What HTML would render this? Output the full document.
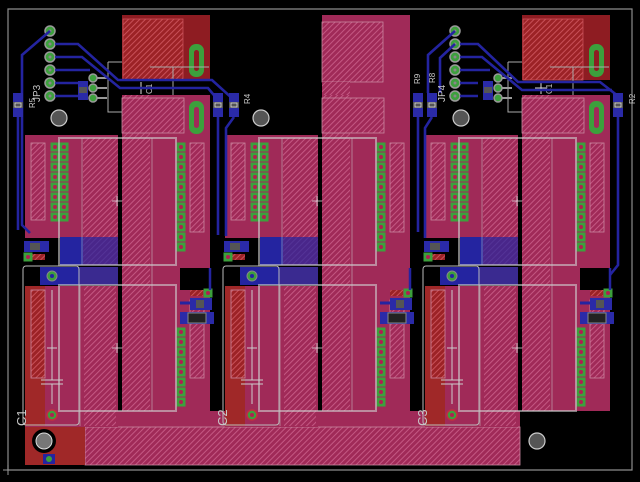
<!DOCTYPE html>
<html><head><meta charset="utf-8"><style>
html,body{margin:0;padding:0;background:#000;}
svg{display:block}
text{font-family:"Liberation Sans",sans-serif;fill:#c8c8c8;}
</style></head><body>
<svg width="640" height="482" viewBox="0 0 640 482" xmlns="http://www.w3.org/2000/svg">
<defs>
<pattern id="hp" width="4" height="4" patternUnits="userSpaceOnUse" patternTransform="rotate(45)">
<rect width="4" height="4" fill="#a02a58"/><rect width="1" height="4" fill="#c45883"/></pattern>
<pattern id="hr" width="4" height="4" patternUnits="userSpaceOnUse" patternTransform="rotate(45)">
<rect width="4" height="4" fill="#9c2226"/><rect width="1" height="4" fill="#c85058"/></pattern>
<g id="pad"><rect x="-4.5" y="-4.5" width="9" height="9" fill="#3ca03c"/><circle r="2" fill="#b02050"/></g>
<g id="strip2">
<use href="#pad" x="55" y="147"/><use href="#pad" x="64" y="147"/>
<use href="#pad" x="55" y="157"/><use href="#pad" x="64" y="157"/>
<use href="#pad" x="55" y="167"/><use href="#pad" x="64" y="167"/>
<use href="#pad" x="55" y="177"/><use href="#pad" x="64" y="177"/>
<use href="#pad" x="55" y="187"/><use href="#pad" x="64" y="187"/>
<use href="#pad" x="55" y="197"/><use href="#pad" x="64" y="197"/>
<use href="#pad" x="55" y="207"/><use href="#pad" x="64" y="207"/>
<use href="#pad" x="55" y="217"/><use href="#pad" x="64" y="217"/>
</g>
<g id="strip1">
<use href="#pad" x="0" y="0"/><use href="#pad" x="0" y="10"/><use href="#pad" x="0" y="20"/><use href="#pad" x="0" y="30"/>
<use href="#pad" x="0" y="40"/><use href="#pad" x="0" y="50"/><use href="#pad" x="0" y="60"/><use href="#pad" x="0" y="70"/>
</g>
<g id="res"><rect x="-5" y="0" width="10" height="24" fill="#2a2aa8"/><rect x="-5" y="9" width="10" height="6" fill="#555"/><rect x="-3" y="10" width="6" height="4" fill="none" stroke="#ddd" stroke-width="0.8"/></g>
<g id="mod">
<rect x="25" y="135" width="93" height="103" fill="#a02a58"/>
<rect x="122" y="95" width="88" height="173" fill="#a02a58"/>
<rect x="122" y="268" width="58" height="22" fill="#a02a58"/>
<rect x="122" y="290" width="88" height="121" fill="#a02a58"/>
<rect x="25" y="286" width="93" height="141" fill="#a02a58"/>
<rect x="25" y="286" width="20" height="140" fill="#a02828"/>
<rect x="84" y="286" width="32" height="140" fill="url(#hp)"/>
<rect x="122" y="95" width="28" height="316" fill="url(#hp)"/>
<rect x="122" y="98" width="62" height="35" fill="url(#hp)" stroke="#c888a0" stroke-width="0.8"/>
<rect x="83" y="138" width="35" height="100" fill="url(#hp)"/>
<rect x="60" y="237" width="58" height="28" fill="#2424a0"/>
<rect x="83" y="237" width="35" height="28" fill="url(#hp)" opacity="0.3"/>
<rect x="40" y="267" width="40" height="18" fill="#2424a0"/>
<rect x="80" y="267" width="38" height="18" fill="#3a2a90"/>
<rect x="31" y="143" width="14" height="77" fill="url(#hp)" stroke="#c888a0" stroke-width="0.8"/>
<rect x="190" y="143" width="14" height="89" fill="url(#hp)" stroke="#c888a0" stroke-width="0.8"/>
<rect x="190" y="300" width="14" height="78" fill="url(#hp)" stroke="#c888a0" stroke-width="0.8"/>
<rect x="31" y="290" width="14" height="88" fill="url(#hr)" stroke="#c888a0" stroke-width="0.8"/>
<use href="#strip2"/>
<g transform="translate(181,147)"><use href="#strip1"/><use href="#pad" y="80"/><use href="#pad" y="90"/><use href="#pad" y="100"/></g>
<g transform="translate(181,332)"><use href="#strip1"/></g>
<rect x="59" y="138" width="117" height="127" fill="none" stroke="#cfcfcf" stroke-opacity="0.6" stroke-width="2"/>
<rect x="59" y="285" width="117" height="126" fill="none" stroke="#cfcfcf" stroke-opacity="0.6" stroke-width="2"/>
<line x1="82" y1="138" x2="82" y2="265" stroke="#ccc" stroke-opacity="0.5"/>
<line x1="152" y1="138" x2="152" y2="411" stroke="#ccc" stroke-opacity="0.5"/>
<line x1="80" y1="285" x2="80" y2="426" stroke="#ccc" stroke-opacity="0.5"/>
<rect x="23" y="266" width="56" height="159" rx="3" fill="none" stroke="#bbb" stroke-width="1"/>
<path d="M112 201h10M117 196v10M112 348h10M117 343v10" stroke="#ddd" stroke-width="0.8"/>
<path d="M52 290v90M41 380h22M41 384h22M52 384v20M47 348h10" stroke="#ccc" stroke-width="1"/>
<circle cx="52" cy="276" r="5" fill="#3ca03c" stroke="#888"/><circle cx="52" cy="276" r="2" fill="#2424a0"/>
<circle cx="52" cy="415" r="5" fill="#3ca03c" stroke="#c03040" stroke-width="1.5"/><circle cx="52" cy="415" r="2" fill="#b02050"/>
<rect x="30" y="254" width="15" height="6" fill="url(#hr)"/><use href="#pad" x="28" y="257"/>
<rect x="24" y="241" width="25" height="11" fill="#2a2aa8"/><rect x="30" y="243" width="10" height="7" fill="#555"/>
<rect x="190" y="290" width="13" height="6" fill="url(#hr)"/><use href="#pad" x="208" y="293"/>
<rect x="190" y="298" width="22" height="12" fill="#2a2aa8"/><rect x="196" y="300" width="8" height="8" fill="#555"/>
<rect x="180" y="312" width="34" height="12" fill="#2a2aa8"/><rect x="188" y="313" width="18" height="10" fill="#222" stroke="#888"/>
<path d="M180 303h10" stroke="#2424a0" stroke-width="3"/>
<path d="M210 290V268" stroke="#2424a0" stroke-width="2.5"/>
</g>
<g id="top">
<rect x="122" y="15" width="88" height="65" fill="#8e1c22"/>
<rect x="123" y="19" width="60" height="61" fill="url(#hr)" stroke="#c85058" stroke-width="0.8"/>
<rect x="189" y="44" width="15" height="33" rx="7" fill="#3ca03c"/><rect x="194" y="50" width="5" height="21" rx="2.5" fill="#8e1c22"/>
<rect x="189" y="101" width="15" height="33" rx="7" fill="#3ca03c"/><rect x="194" y="107" width="5" height="21" rx="2.5" fill="#a02a58"/>
<path d="M108 62h14M108 62v50h14M173 67v28M150 67h59" stroke="#aaa" stroke-width="1" fill="none"/>
<path d="M135 88h12M141 82v12" stroke="#ddd"/>
<text x="146" y="92" font-size="8" transform="rotate(-90 150 90)">C1</text>
</g>
<g id="hdr">
<g fill="#3ca03c" stroke="#999" stroke-width="1.5">
<circle cx="50" cy="31" r="5"/><circle cx="50" cy="44" r="5"/><circle cx="50" cy="57" r="5"/><circle cx="50" cy="70" r="5"/><circle cx="50" cy="83" r="5"/><circle cx="50" cy="96" r="5"/>
<circle cx="93" cy="78" r="4"/><circle cx="93" cy="88" r="4"/><circle cx="93" cy="98" r="4"/></g>
<g fill="#888"><circle cx="50" cy="31" r="1.5"/><circle cx="50" cy="44" r="1.5"/><circle cx="50" cy="57" r="1.5"/><circle cx="50" cy="70" r="1.5"/><circle cx="50" cy="83" r="1.5"/><circle cx="50" cy="96" r="1.5"/></g>
<rect x="78" y="81" width="10" height="19" fill="#2a2aa8"/><rect x="79" y="87" width="8" height="6" fill="#555"/>
<path d="M97 78h10M97 88h10M97 98h10" stroke="#999" stroke-width="2"/>
</g>
</defs>

<path d="M8 9H632V470H8Z" fill="none" stroke="#8c8c8c" stroke-width="1.2"/>
<path d="M3 470h5M8 465v10" stroke="#999"/>

<rect x="322" y="15" width="88" height="396" fill="#a02a58"/>
<rect x="322" y="22" width="61" height="60" fill="url(#hp)" stroke="#c888a0" stroke-width="0.8"/>
<rect x="322" y="82" width="28" height="50" fill="url(#hp)"/>

<rect x="25" y="411" width="495" height="54" fill="#a02a58"/>
<rect x="85" y="427" width="435" height="38" fill="url(#hp)" stroke="#c888a0" stroke-width="0.8"/>
<rect x="25" y="425" width="60" height="40" fill="#a02828"/>

<use href="#mod"/>
<use href="#mod" x="200"/>
<use href="#mod" x="400"/>
<use href="#top"/>
<use href="#top" x="400"/>
<use href="#hdr"/>
<use href="#hdr" x="405"/>

<g stroke="#2424a0" stroke-width="2.6" fill="none">
<path d="M50 31L22 55V225L30 233"/>
<path d="M18 117V230"/>
<path d="M55 44H78L118 80H212L234 100"/>
<path d="M55 57H82L120 88H208L218 100"/>
<path d="M55 70H90"/><path d="M55 83H78M55 96H78"/>
<path d="M218 117V235M234 117L226 128V236"/>
<path d="M455 31L428 55V93M455 44L440 58V93"/>
<path d="M460 44H478L518 82H600L618 96"/>
<path d="M460 57H482L522 90H612"/>
<path d="M418 117V232M432 117L425 128V238"/>
<path d="M618 117V265L610 275"/>
<path d="M460 70H490"/><path d="M460 83H478M460 96H478"/>
</g>
<use href="#res" x="18" y="93"/>
<use href="#res" x="218" y="93"/>
<use href="#res" x="234" y="93"/>
<use href="#res" x="418" y="93"/>
<use href="#res" x="432" y="93"/>
<use href="#res" x="618" y="93"/>
<text x="30" y="100" font-size="10" transform="rotate(-90 36 96)">JP3</text>
<text x="435" y="100" font-size="10" transform="rotate(-90 441 96)">JP4</text>
<text x="27" y="112" font-size="8" transform="rotate(-90 29 106)">R5</text>
<text x="240" y="106" font-size="8" transform="rotate(-90 244 100)">R4</text>
<text x="410" y="82" font-size="8" transform="rotate(-90 416 78)">R9</text>
<text x="426" y="82" font-size="8" transform="rotate(-90 431 78)">R8</text>
<text x="629" y="110" font-size="8" transform="rotate(-90 629 104)">R2</text>
<text x="12" y="424" font-size="13" transform="rotate(-90 20 418)">C1</text>
<text x="212" y="425" font-size="13" transform="rotate(-90 220 418)">C2</text>
<text x="412" y="425" font-size="13" transform="rotate(-90 420 418)">C3</text>

<g fill="#555" stroke="#ccc" stroke-width="1.2">
<circle cx="59" cy="118" r="8"/><circle cx="261" cy="118" r="8"/><circle cx="461" cy="118" r="8"/><circle cx="537" cy="441" r="8"/>
</g>
<circle cx="44" cy="441" r="12" fill="#000"/><circle cx="44" cy="441" r="8" fill="#777" stroke="#ddd"/>
<rect x="43" y="454" width="12" height="10" fill="#2424a0"/><circle cx="49" cy="459" r="3" fill="#3ca03c"/>
</svg>
</body></html>
